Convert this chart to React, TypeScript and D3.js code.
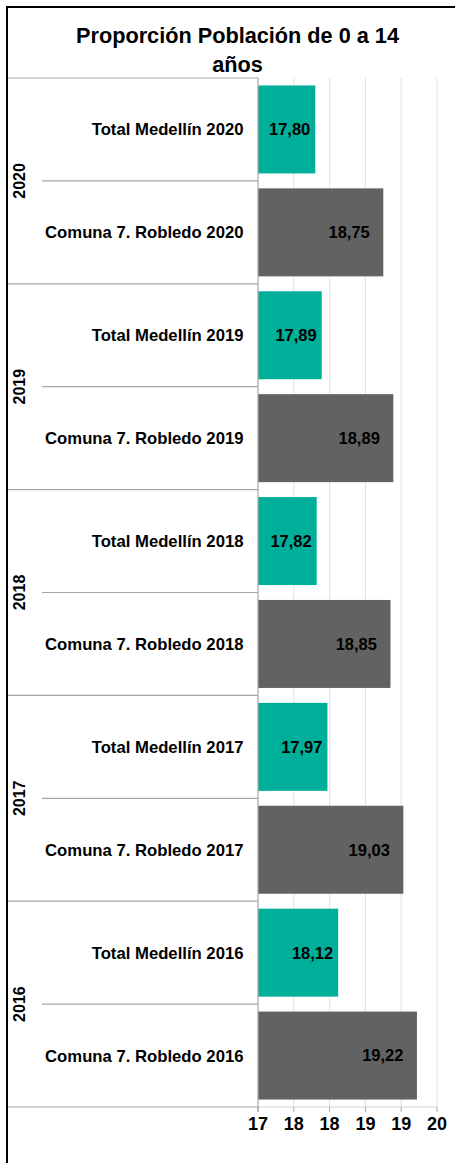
import React from "react";
import * as d3 from "d3";

const years = ["2020", "2019", "2018", "2017", "2016"];
const seriesNames = ["Total Medellín", "Comuna 7. Robledo"];
const totalMedellin = [17.8, 17.89, 17.82, 17.97, 18.12];
const comunaRobledo = [18.75, 18.89, 18.85, 19.03, 19.22];
const xTicks = [17, 17.5, 18, 18.5, 19, 19.5];
const title = ["Proporción Población de 0 a 14", "años"];

const W = 455;
const H = 1163;
const FONT = "'Liberation Sans', Arial, sans-serif";
const TEAL = "#00AF9A";
const GRAY = "#626262";

type Row = { key: string; year: string; series: number; value: number; label: string };

const rows: Row[] = [];
years.forEach((y, i) => {
  rows.push({ key: `${y}-0`, year: y, series: 0, value: totalMedellin[i], label: `${seriesNames[0]} ${y}` });
  rows.push({ key: `${y}-1`, year: y, series: 1, value: comunaRobledo[i], label: `${seriesNames[1]} ${y}` });
});

export default function App() {
  const plotTop = 78;
  const plotBottom = 1107;
  const axisLeft = 258;
  const axisRight = 437;

  const x = d3.scaleLinear().domain([17, 19.5]).range([axisLeft, axisRight]);
  const y = d3
    .scaleBand<string>()
    .domain(rows.map((r) => r.key))
    .range([plotTop, plotBottom])
    .paddingInner(0.145)
    .paddingOuter(0.0725);
  const step = y.step();
  const fmt = (v: number) => v.toFixed(2).replace(".", ",");
  const tickFmt = (v: number) => String(Math.round(v));

  const boundaries = d3.range(rows.length + 1).map((i) => plotTop + i * step);

  return (
    <svg
      width={W}
      height={H}
      style={{ position: "absolute", left: 0, top: 0, background: "#fff" }}
      fontFamily={FONT}
    >
      <rect x={0} y={0} width={W} height={H} fill="#fff" />
      {/* outer border */}
      <rect x={7} y={7} width={W + 20} height={H + 20} fill="none" stroke="#000" strokeWidth={2} />

      {/* title */}
      <text x={237.5} y={43.3} textAnchor="middle" fontSize={21.7} fontWeight="bold" fill="#000">
        {title[0]}
      </text>
      <text x={237.5} y={71.5} textAnchor="middle" fontSize={21.7} fontWeight="bold" fill="#000">
        {title[1]}
      </text>

      {/* gridlines */}
      {xTicks.slice(1).map((t) => (
        <line key={`g${t}`} x1={x(t)} x2={x(t)} y1={plotTop} y2={plotBottom} stroke="#DDE8EC" strokeWidth={1.2} />
      ))}

      {/* bars */}
      {rows.map((r) => (
        <rect
          key={r.key}
          x={x(17)}
          y={y(r.key)!}
          width={x(r.value) - x(17)}
          height={y.bandwidth()}
          fill={r.series === 0 ? TEAL : GRAY}
        />
      ))}

      {/* value labels */}
      {rows.map((r) => (
        <text
          key={`v${r.key}`}
          x={x(r.value) - (r.series === 0 ? 5 : 13.5)}
          y={y(r.key)! + y.bandwidth() / 2}
          dy="0.36em"
          textAnchor="end"
          fontSize={16.5}
          fontWeight="bold"
          fill="#000"
        >
          {fmt(r.value)}
        </text>
      ))}

      {/* category separators */}
      {boundaries.map((b, i) => (
        <line
          key={`s${i}`}
          x1={i % 2 === 0 ? 8 : 42}
          x2={axisLeft}
          y1={b}
          y2={b}
          stroke="#A6A6A6"
          strokeWidth={1.2}
        />
      ))}

      {/* value axis line */}
      <line x1={axisLeft} x2={axisRight} y1={plotBottom} y2={plotBottom} stroke="#D0D8DC" strokeWidth={1.2} />
      {xTicks.map((t) => (
        <line key={`t${t}`} x1={x(t)} x2={x(t)} y1={plotBottom} y2={plotBottom + 5} stroke="#A6A6A6" strokeWidth={1} />
      ))}
      {/* category axis line */}
      <line x1={axisLeft} x2={axisLeft} y1={plotTop} y2={plotBottom + 5} stroke="#A6A6A6" strokeWidth={1.2} />

      {/* x tick labels */}
      {xTicks.map((t) => (
        <text key={`l${t}`} x={x(t)} y={1129.5} textAnchor="middle" fontSize={18} fontWeight="bold" fill="#000">
          {tickFmt(t)}
        </text>
      ))}

      {/* category labels */}
      {rows.map((r) => (
        <text
          key={`c${r.key}`}
          x={243.5}
          y={y(r.key)! + y.bandwidth() / 2}
          dy="0.36em"
          textAnchor="end"
          fontSize={16.7}
          fontWeight="bold"
          fill="#000"
        >
          {r.label}
        </text>
      ))}

      {/* year labels */}
      {years.map((yr, i) => {
        const cy = plotTop + (2 * i + 1) * step;
        return (
          <text
            key={`y${yr}`}
            transform={`translate(24.5, ${cy}) rotate(-90)`}
            textAnchor="middle"
            fontSize={16}
            fontWeight="bold"
            fill="#000"
          >
            {yr}
          </text>
        );
      })}
    </svg>
  );
}
